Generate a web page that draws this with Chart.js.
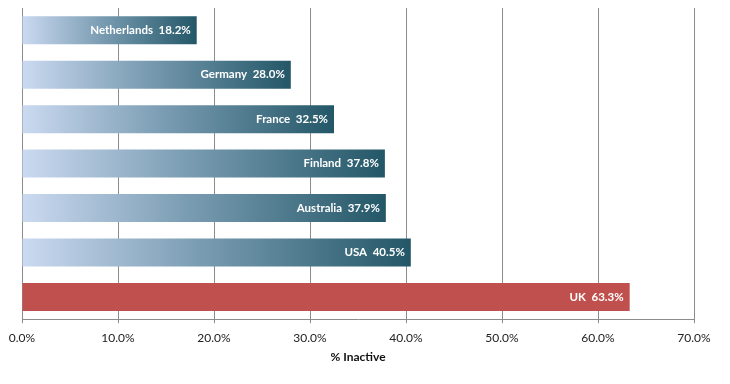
<!DOCTYPE html>
<html>
<head>
<meta charset="utf-8">
<script src="https://cdn.jsdelivr.net/npm/chart.js@4/dist/chart.umd.min.js"></script>
<style>
  html, body { margin: 0; padding: 0; background: #fff; }
  #wrap { width: 730px; height: 384px; }
</style>
</head>
<body>
<div id="wrap"><canvas id="inactiveChart" width="730" height="384"></canvas></div>
<script>
// 국가별 비활동 비율
const countries = ['Netherlands', 'Germany', 'France', 'Finland', 'Australia', 'USA', 'UK'];
const inactivePct = [18.2, 28.0, 32.5, 37.8, 37.9, 40.5, 63.3];
const xTicks = [0, 10, 20, 30, 40, 50, 60, 70];
const highlight = 'UK';

const FONT = 'Lato, "Open Sans", sans-serif';

// 막대 그라데이션 (왼쪽 연한 파랑 -> 오른쪽 짙은 청록)
function barFill(context) {
    const chart = context.chart;
    const label = chart.data.labels[context.dataIndex];
    if (label === highlight) return '#c0504d';
    const area = chart.chartArea;
    const xScale = chart.scales.x;
    if (!area || !xScale) return '#5f8599';
    const x0 = xScale.getPixelForValue(0);
    const x1 = xScale.getPixelForValue(context.raw);
    const g = chart.ctx.createLinearGradient(x0, 0, x1, 0);
    g.addColorStop(0, '#cbdaf1');
    g.addColorStop(0.45, '#7b9db3');
    g.addColorStop(1, '#235767');
    return g;
}

// 막대 안쪽 라벨
const barLabels = {
    id: 'barLabels',
    afterDatasetsDraw(chart) {
        const ctx = chart.ctx;
        const meta = chart.getDatasetMeta(0);
        ctx.save();
        ctx.font = 'bold 11.5px ' + FONT;
        ctx.fillStyle = '#ffffff';
        ctx.textAlign = 'right';
        ctx.textBaseline = 'middle';
        meta.data.forEach((bar, i) => {
            const text = countries[i] + '  ' + inactivePct[i].toFixed(1) + '%';
            ctx.fillText(text, bar.x - 6, bar.y);
        });
        ctx.restore();
    }
};

new Chart(document.getElementById('inactiveChart'), {
    type: 'bar',
    data: {
        labels: countries,
        datasets: [{
            data: inactivePct,
            backgroundColor: barFill,
            borderWidth: 0,
            barPercentage: 0.63,
            categoryPercentage: 1.0,
        }],
    },
    plugins: [barLabels],
    options: {
        indexAxis: 'y',
        responsive: false,
        animation: false,
        layout: { padding: { left: 14, right: 36, top: 8, bottom: 16 } },
        plugins: {
            legend: { display: false },
            tooltip: { enabled: false },
        },
        scales: {
            x: {
                min: 0,
                max: 70,
                afterBuildTicks(axis) {
                    axis.ticks = xTicks.map((v) => ({ value: v }));
                },
                ticks: {
                    color: '#222',
                    font: { family: FONT, size: 12 },
                    padding: 8,
                    callback: (v) => v.toFixed(1) + '%',
                },
                grid: {
                    color: '#8c8c8c',
                    lineWidth: 1,
                    tickLength: 4,
                },
                border: { color: '#8c8c8c' },
                title: {
                    display: true,
                    text: '% Inactive',
                    color: '#111',
                    font: { family: FONT, size: 12, weight: 'bold' },
                    padding: { top: -4 },
                },
            },
            y: {
                ticks: { display: false },
                grid: { display: false },
                border: { color: '#8c8c8c' },
            },
        },
    },
});
</script>
</body>
</html>
